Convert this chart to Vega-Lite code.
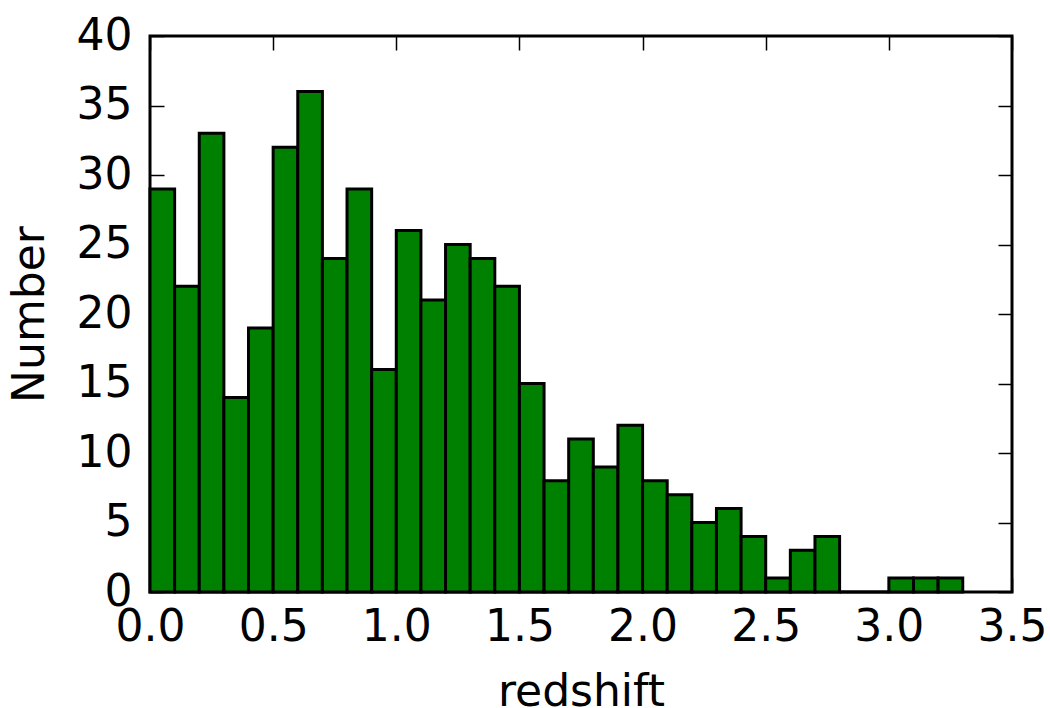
{
  "$schema": "https://vega.github.io/schema/vega-lite/v6.json",
  "width": 862,
  "height": 556,
  "autosize": {"type": "none"},
  "padding": {"left": 150, "top": 36, "right": 38, "bottom": 116},
  "background": "white",
  "config": {
    "font": "DejaVu Sans",
    "view": {"stroke": "black", "strokeWidth": 3},
    "axis": {
      "domain": false,
      "grid": false,
      "tickColor": "black",
      "tickWidth": 1.5,
      "tickSize": -14,
      "labelFlush": false,
      "labelOverlap": false,
      "labelFont": "DejaVu Sans",
      "labelFontSize": 44,
      "labelColor": "black",
      "titleFont": "DejaVu Sans",
      "titleFontSize": 44,
      "titleFontWeight": "normal",
      "titleColor": "black"
    }
  },
  "data": {
    "values": [
      {"start": 0.0, "end": 0.1, "count": 29},
      {"start": 0.1, "end": 0.2, "count": 22},
      {"start": 0.2, "end": 0.3, "count": 33},
      {"start": 0.3, "end": 0.4, "count": 14},
      {"start": 0.4, "end": 0.5, "count": 19},
      {"start": 0.5, "end": 0.6, "count": 32},
      {"start": 0.6, "end": 0.7, "count": 36},
      {"start": 0.7, "end": 0.8, "count": 24},
      {"start": 0.8, "end": 0.9, "count": 29},
      {"start": 0.9, "end": 1.0, "count": 16},
      {"start": 1.0, "end": 1.1, "count": 26},
      {"start": 1.1, "end": 1.2, "count": 21},
      {"start": 1.2, "end": 1.3, "count": 25},
      {"start": 1.3, "end": 1.4, "count": 24},
      {"start": 1.4, "end": 1.5, "count": 22},
      {"start": 1.5, "end": 1.6, "count": 15},
      {"start": 1.6, "end": 1.7, "count": 8},
      {"start": 1.7, "end": 1.8, "count": 11},
      {"start": 1.8, "end": 1.9, "count": 9},
      {"start": 1.9, "end": 2.0, "count": 12},
      {"start": 2.0, "end": 2.1, "count": 8},
      {"start": 2.1, "end": 2.2, "count": 7},
      {"start": 2.2, "end": 2.3, "count": 5},
      {"start": 2.3, "end": 2.4, "count": 6},
      {"start": 2.4, "end": 2.5, "count": 4},
      {"start": 2.5, "end": 2.6, "count": 1},
      {"start": 2.6, "end": 2.7, "count": 3},
      {"start": 2.7, "end": 2.8, "count": 4},
      {"start": 2.8, "end": 2.9, "count": 0},
      {"start": 2.9, "end": 3.0, "count": 0},
      {"start": 3.0, "end": 3.1, "count": 1},
      {"start": 3.1, "end": 3.2, "count": 1},
      {"start": 3.2, "end": 3.3, "count": 1}
    ]
  },
  "layer": [
    {
      "mark": {"type": "rect", "fill": "#008000", "stroke": "black", "strokeWidth": 3},
      "encoding": {
        "x": {
          "field": "start", "type": "quantitative",
          "scale": {"domain": [0, 3.5], "nice": false, "zero": false},
          "axis": {"orient": "bottom", "values": [0, 0.5, 1, 1.5, 2, 2.5, 3, 3.5], "format": ".1f", "title": "redshift", "labelPadding": 27, "titleBaseline": "alphabetic", "titleY": 113}
        },
        "x2": {"field": "end"},
        "y": {
          "field": "count", "type": "quantitative",
          "scale": {"domain": [0, 40], "nice": false},
          "axis": {"orient": "left", "values": [0, 5, 10, 15, 20, 25, 30, 35, 40], "title": "Number", "labelPadding": 32, "titleBaseline": "alphabetic", "titleX": -107}
        },
        "y2": {"datum": 0}
      }
    },
    {
      "mark": {"type": "rect", "opacity": 0},
      "encoding": {
        "x": {
          "field": "start", "type": "quantitative",
          "axis": {"orient": "top", "values": [0, 0.5, 1, 1.5, 2, 2.5, 3, 3.5], "labels": false, "title": null}
        },
        "x2": {"field": "end"},
        "y": {
          "field": "count", "type": "quantitative",
          "axis": {"orient": "right", "values": [0, 5, 10, 15, 20, 25, 30, 35, 40], "labels": false, "title": null}
        },
        "y2": {"datum": 0}
      }
    }
  ],
  "resolve": {"axis": {"x": "independent", "y": "independent"}}
}
